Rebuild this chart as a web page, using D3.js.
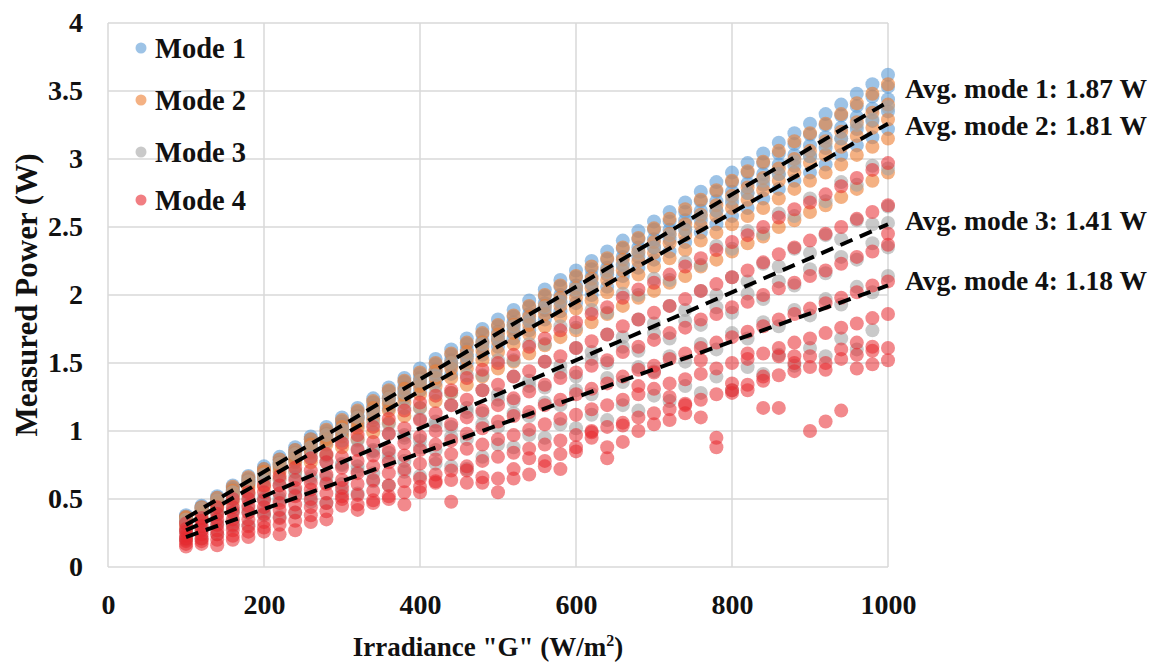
<!DOCTYPE html>
<html>
<head>
<meta charset="utf-8">
<script src="https://cdn.jsdelivr.net/npm/d3@7"></script>
<style>
  body { margin: 0; background: #fff; }
  text { font-family: "Liberation Serif", "Times New Roman", serif; font-weight: bold; fill: #111; }
</style>
</head>
<body>
<div id="chart"></div>
<script>
const irradiance = [100, 120, 140, 160, 180, 200, 220, 240, 260, 280, 300, 320, 340, 360, 380, 400,
  420, 440, 460, 480, 500, 520, 540, 560, 580, 600, 620, 640, 660, 680, 700, 720, 740, 760, 780,
  800, 820, 840, 860, 880, 900, 920, 940, 960, 980, 1000];

// measured power (W), one row per irradiance step
const mode1 = [
  [0.38, 0.37, 0.36, 0.35, 0.34], [0.45, 0.44, 0.43, 0.41, 0.40], [0.52, 0.51, 0.49, 0.48, 0.46],
  [0.60, 0.58, 0.57, 0.55, 0.53], [0.67, 0.65, 0.64, 0.62, 0.60], [0.74, 0.72, 0.70, 0.68, 0.66],
  [0.81, 0.79, 0.77, 0.75, 0.72], [0.88, 0.86, 0.84, 0.81, 0.78], [0.96, 0.94, 0.91, 0.89, 0.85],
  [1.03, 1.00, 0.98, 0.95, 0.92], [1.10, 1.07, 1.05, 1.02, 0.98], [1.17, 1.14, 1.11, 1.08, 1.04],
  [1.24, 1.21, 1.18, 1.15, 1.10], [1.32, 1.29, 1.25, 1.22, 1.17], [1.39, 1.36, 1.32, 1.29, 1.24],
  [1.46, 1.42, 1.39, 1.35, 1.30], [1.53, 1.49, 1.45, 1.42, 1.36], [1.60, 1.56, 1.52, 1.48, 1.42],
  [1.68, 1.64, 1.60, 1.55, 1.50], [1.75, 1.71, 1.66, 1.62, 1.56], [1.82, 1.77, 1.73, 1.68, 1.62],
  [1.89, 1.84, 1.80, 1.75, 1.68], [1.96, 1.91, 1.86, 1.81, 1.74], [2.04, 1.99, 1.94, 1.89, 1.82],
  [2.11, 2.06, 2.00, 1.95, 1.88], [2.18, 2.13, 2.07, 2.02, 1.94], [2.25, 2.19, 2.14, 2.08, 2.00],
  [2.32, 2.26, 2.20, 2.15, 2.06], [2.40, 2.34, 2.28, 2.22, 2.14], [2.47, 2.41, 2.35, 2.28, 2.20],
  [2.54, 2.48, 2.41, 2.35, 2.26], [2.61, 2.54, 2.48, 2.41, 2.32], [2.68, 2.61, 2.55, 2.48, 2.39],
  [2.76, 2.69, 2.62, 2.55, 2.46], [2.83, 2.76, 2.69, 2.62, 2.52], [2.90, 2.83, 2.76, 2.68, 2.58],
  [2.97, 2.90, 2.82, 2.75, 2.64], [3.04, 2.97, 2.89, 2.81, 2.71], [3.12, 3.04, 2.96, 2.89, 2.78],
  [3.19, 3.11, 3.03, 2.95, 2.84], [3.26, 3.18, 3.10, 3.02, 2.90], [3.33, 3.25, 3.16, 3.08, 2.96],
  [3.40, 3.32, 3.23, 3.15, 3.03], [3.48, 3.39, 3.31, 3.22, 3.10], [3.55, 3.46, 3.37, 3.28, 3.16],
  [3.62, 3.53, 3.44, 3.35, 3.22]
];

const mode2 = [
  [0.37, 0.36, 0.35, 0.33, 0.30], [0.44, 0.43, 0.41, 0.39, 0.36], [0.51, 0.49, 0.47, 0.45, 0.41],
  [0.59, 0.56, 0.54, 0.52, 0.48], [0.66, 0.63, 0.61, 0.58, 0.54], [0.72, 0.70, 0.67, 0.64, 0.59],
  [0.79, 0.76, 0.74, 0.70, 0.65], [0.86, 0.83, 0.80, 0.77, 0.70], [0.94, 0.90, 0.87, 0.84, 0.77],
  [1.01, 0.97, 0.94, 0.90, 0.82], [1.08, 1.03, 1.00, 0.96, 0.88], [1.15, 1.10, 1.06, 1.02, 0.94],
  [1.22, 1.17, 1.13, 1.08, 0.99], [1.30, 1.24, 1.20, 1.15, 1.06], [1.37, 1.31, 1.26, 1.21, 1.11],
  [1.43, 1.37, 1.33, 1.27, 1.17], [1.50, 1.44, 1.39, 1.33, 1.22], [1.57, 1.50, 1.46, 1.39, 1.28],
  [1.65, 1.58, 1.53, 1.46, 1.34], [1.72, 1.65, 1.59, 1.52, 1.40], [1.78, 1.71, 1.66, 1.58, 1.46],
  [1.85, 1.78, 1.72, 1.64, 1.51], [1.92, 1.84, 1.78, 1.71, 1.57], [2.00, 1.92, 1.86, 1.77, 1.63],
  [2.07, 1.98, 1.92, 1.84, 1.69], [2.14, 2.05, 1.98, 1.90, 1.74], [2.21, 2.12, 2.05, 1.96, 1.80],
  [2.27, 2.18, 2.11, 2.02, 1.86], [2.35, 2.26, 2.18, 2.09, 1.92], [2.42, 2.32, 2.25, 2.15, 1.98],
  [2.49, 2.39, 2.31, 2.21, 2.03], [2.56, 2.45, 2.38, 2.27, 2.09], [2.63, 2.52, 2.44, 2.33, 2.14],
  [2.70, 2.59, 2.51, 2.40, 2.21], [2.77, 2.66, 2.58, 2.46, 2.26], [2.84, 2.73, 2.64, 2.52, 2.32],
  [2.91, 2.79, 2.70, 2.58, 2.38], [2.98, 2.86, 2.77, 2.64, 2.43], [3.06, 2.93, 2.84, 2.71, 2.50],
  [3.13, 3.00, 2.90, 2.78, 2.55], [3.19, 3.06, 2.97, 2.84, 2.61], [3.26, 3.13, 3.03, 2.90, 2.66],
  [3.33, 3.20, 3.09, 2.96, 2.72], [3.41, 3.27, 3.17, 3.03, 2.78], [3.48, 3.34, 3.23, 3.09, 2.84],
  [3.55, 3.40, 3.29, 3.15, 2.90]
];

const mode3 = [
  [0.35, 0.32, 0.27, 0.26, 0.21, 0.20], [0.43, 0.36, 0.34, 0.29, 0.27, 0.21],
  [0.49, 0.41, 0.39, 0.33, 0.31, 0.24], [0.55, 0.50, 0.42, 0.41, 0.33, 0.30],
  [0.63, 0.53, 0.50, 0.43, 0.40, 0.31], [0.68, 0.63, 0.51, 0.50, 0.41, 0.38],
  [0.76, 0.64, 0.60, 0.51, 0.49, 0.37], [0.83, 0.70, 0.66, 0.56, 0.53, 0.40],
  [0.88, 0.81, 0.67, 0.65, 0.53, 0.48], [0.97, 0.82, 0.77, 0.66, 0.62, 0.47],
  [1.01, 0.93, 0.76, 0.75, 0.61, 0.55], [1.10, 0.93, 0.87, 0.74, 0.71, 0.54],
  [1.14, 1.05, 0.86, 0.85, 0.69, 0.63], [1.24, 1.05, 0.98, 0.84, 0.80, 0.60],
  [1.28, 1.17, 0.97, 0.95, 0.78, 0.70], [1.37, 1.17, 1.09, 0.93, 0.88, 0.67],
  [1.41, 1.28, 1.07, 1.04, 0.86, 0.76], [1.50, 1.28, 1.19, 1.03, 0.96, 0.74],
  [1.55, 1.41, 1.17, 1.14, 0.94, 0.72], [1.64, 1.41, 1.30, 1.13, 1.05, 0.81],
  [1.68, 1.52, 1.27, 1.23, 1.03, 0.90], [1.77, 1.52, 1.40, 1.22, 1.13, 0.88],
  [1.81, 1.64, 1.37, 1.33, 1.11, 0.97], [1.91, 1.64, 1.51, 1.32, 1.21, 0.95],
  [1.95, 1.77, 1.48, 1.43, 1.19, 1.05], [2.04, 1.76, 1.61, 1.40, 1.30, 1.02],
  [2.08, 1.89, 1.58, 1.53, 1.27, 1.12], [2.17, 1.87, 1.71, 1.50, 1.39, 1.08],
  [2.22, 2.01, 1.69, 1.62, 1.36, 1.19], [2.31, 2.00, 1.82, 1.59, 1.47, 1.15],
  [2.35, 2.12, 1.79, 1.72, 1.44, 1.26], [2.44, 2.11, 1.92, 1.68, 1.55, 1.22],
  [2.48, 2.24, 1.89, 1.81, 1.51, 1.33], [2.58, 2.22, 2.03, 1.78, 1.64, 1.28],
  [2.62, 2.36, 2.00, 1.91, 1.60, 1.40], [2.71, 2.34, 2.13, 1.87, 1.72, 1.30],
  [2.75, 2.47, 2.10, 2.01, 1.68, 1.47], [2.84, 2.45, 2.23, 1.97, 1.80, 1.42],
  [2.89, 2.60, 2.21, 2.10, 1.77, 1.56], [2.98, 2.58, 2.34, 2.07, 1.89, 1.48],
  [3.02, 2.71, 2.31, 2.19, 1.85, 1.61], [3.11, 2.69, 2.44, 2.16, 1.97, 1.55],
  [3.15, 2.83, 2.41, 2.28, 1.93, 1.68], [3.25, 2.81, 2.55, 2.26, 2.06, 1.60],
  [3.29, 2.95, 2.52, 2.38, 2.02, 1.74], [3.38, 2.93, 2.65, 2.35, 2.14, 2.53]
];

const mode4 = [
  [0.32, 0.28, 0.26, 0.23, 0.21, 0.19, 0.17, 0.15], [0.36, 0.34, 0.30, 0.27, 0.24, 0.21, 0.19, 0.17],
  [0.44, 0.39, 0.35, 0.31, 0.27, 0.24, 0.20, 0.16], [0.50, 0.44, 0.40, 0.35, 0.31, 0.27, 0.23, 0.20],
  [0.55, 0.50, 0.45, 0.40, 0.35, 0.30, 0.26, 0.22], [0.60, 0.55, 0.49, 0.44, 0.39, 0.33, 0.29, 0.26],
  [0.67, 0.60, 0.54, 0.47, 0.42, 0.36, 0.31, 0.24], [0.73, 0.64, 0.58, 0.52, 0.46, 0.40, 0.34, 0.27],
  [0.80, 0.71, 0.62, 0.57, 0.50, 0.44, 0.38, 0.33], [0.83, 0.77, 0.68, 0.61, 0.54, 0.47, 0.41, 0.35],
  [0.91, 0.81, 0.73, 0.64, 0.58, 0.50, 0.52, 0.45], [0.97, 0.86, 0.78, 0.69, 0.61, 0.53, 0.46, 0.42],
  [1.03, 0.92, 0.82, 0.74, 0.64, 0.56, 0.49, 0.47], [1.09, 0.98, 0.86, 0.77, 0.69, 0.60, 0.52, 0.50],
  [1.15, 1.02, 0.91, 0.82, 0.72, 0.63, 0.55, 0.46], [1.21, 1.08, 0.96, 0.86, 0.76, 0.65, 0.59, 0.55],
  [1.26, 1.13, 1.00, 0.90, 0.79, 0.68, 0.62, 0.63], [1.30, 1.19, 1.05, 0.93, 0.83, 0.71, 0.64, 0.48],
  [1.39, 1.23, 1.10, 0.98, 0.87, 0.74, 0.71, 0.62], [1.45, 1.30, 1.15, 1.02, 0.90, 0.78, 0.66, 0.62],
  [1.50, 1.34, 1.19, 1.07, 0.94, 0.81, 0.65, 0.55], [1.56, 1.40, 1.24, 1.11, 0.97, 0.84, 0.72, 0.65],
  [1.62, 1.44, 1.29, 1.14, 1.01, 0.87, 0.80, 0.68], [1.68, 1.51, 1.34, 1.19, 1.05, 0.90, 0.78, 0.74],
  [1.74, 1.55, 1.39, 1.23, 1.09, 0.93, 0.83, 0.72], [1.80, 1.61, 1.43, 1.27, 1.12, 0.97, 0.88, 0.85],
  [1.86, 1.66, 1.48, 1.31, 1.16, 1.00, 0.95, 0.99], [1.91, 1.71, 1.52, 1.35, 1.19, 1.03, 0.88, 0.80],
  [1.98, 1.77, 1.58, 1.40, 1.23, 1.06, 1.04, 0.92], [2.04, 1.82, 1.62, 1.45, 1.27, 1.10, 1.33, 1.00],
  [2.09, 1.87, 1.67, 1.48, 1.31, 1.13, 1.43, 1.05], [2.15, 1.92, 1.72, 1.53, 1.35, 1.16, 1.25, 1.08],
  [2.21, 1.97, 1.76, 1.57, 1.38, 1.19, 1.20, 1.13], [2.27, 2.03, 1.82, 1.61, 1.42, 1.23, 1.52, 1.10],
  [2.33, 2.08, 1.86, 1.65, 1.46, 1.27, 0.95, 0.88], [2.39, 2.13, 1.91, 1.69, 1.50, 1.30, 1.28, 1.35],
  [2.44, 2.18, 1.95, 1.73, 1.53, 1.34, 1.57, 1.30], [2.50, 2.24, 2.00, 1.77, 1.57, 1.37, 1.17, 1.40],
  [2.57, 2.30, 2.05, 1.82, 1.61, 1.41, 1.17, 1.55], [2.63, 2.35, 2.09, 1.86, 1.65, 1.44, 1.55, 1.50],
  [2.68, 2.40, 2.14, 1.90, 1.68, 1.47, 1.00, 1.55], [2.74, 2.45, 2.18, 1.94, 1.72, 1.50, 1.07, 1.45],
  [2.80, 2.50, 2.23, 1.98, 1.76, 1.53, 1.15, 1.60], [2.86, 2.56, 2.28, 2.02, 1.79, 1.56, 1.46, 1.65],
  [2.92, 2.61, 2.32, 2.07, 1.83, 1.59, 1.49, 1.62], [2.97, 2.66, 2.37, 2.10, 1.86, 1.61, 1.52, 2.45]
];

const modeNames = ["Mode 1", "Mode 2", "Mode 3", "Mode 4"];
const modeColors = ["#5B9BD5", "#ED7D31", "#A5A5A5", "#E8282E"];
// linear trend lines, value at G = 100 and G = 1000
const trendStart = [0.36, 0.31, 0.27, 0.22];
const trendEnd = [3.42, 3.26, 2.52, 2.07];
const avgLabels = ["Avg. mode 1: 1.87 W", "Avg. mode 2: 1.81 W", "Avg. mode 3: 1.41 W", "Avg. mode 4: 1.18 W"];
const xTicks = [0, 200, 400, 600, 800, 1000];
const yTicks = [0, 0.5, 1, 1.5, 2, 2.5, 3, 3.5, 4];

const width = 1171;
const height = 666;
const margin = { top: 23, right: 283, bottom: 99, left: 108 };

const svg = d3.select("#chart")
  .append("svg")
  .attr("width", width)
  .attr("height", height);

const x = d3.scaleLinear()
  .domain([0, 1000])
  .range([margin.left, width - margin.right]);

const y = d3.scaleLinear()
  .domain([0, 4])
  .range([height - margin.bottom, margin.top]);

// gridlines
svg.append("g")
  .selectAll("line")
  .data(yTicks)
  .join("line")
  .attr("x1", x(0)).attr("x2", x(1000))
  .attr("y1", d => y(d)).attr("y2", d => y(d))
  .attr("stroke", "#d9d9d9").attr("stroke-width", 1.5);

svg.append("g")
  .selectAll("line")
  .data(xTicks)
  .join("line")
  .attr("x1", d => x(d)).attr("x2", d => x(d))
  .attr("y1", y(0)).attr("y2", y(4))
  .attr("stroke", "#d9d9d9").attr("stroke-width", 1.5);

// axes (labels only)
const xAxis = svg.append("g")
  .attr("transform", `translate(0,${y(0) + 24})`)
  .call(d3.axisBottom(x).tickValues(xTicks).tickSize(0).tickFormat(d3.format("d")));
xAxis.select(".domain").remove();
xAxis.selectAll("text").attr("font-size", 28).attr("font-family", null).attr("dy", "0.71em");

const yAxis = svg.append("g")
  .attr("transform", `translate(${x(0) - 22},0)`)
  .call(d3.axisLeft(y).tickValues(yTicks).tickSize(0).tickFormat(d => d));
yAxis.select(".domain").remove();
yAxis.selectAll("text").attr("font-size", 28).attr("font-family", null);

// scatter points
const modes = [mode1, mode2, mode3, mode4];
modes.forEach((rows, i) => {
  const pts = [];
  rows.forEach((vals, j) => vals.forEach(v => pts.push({ g: irradiance[j], p: v })));
  svg.append("g")
    .selectAll("circle")
    .data(pts)
    .join("circle")
    .attr("cx", d => x(d.g))
    .attr("cy", d => y(d.p))
    .attr("r", 7)
    .attr("fill", modeColors[i])
    .attr("fill-opacity", i === 3 ? 0.55 : 0.6);
});

// trend lines
const line = d3.line().x(d => x(d[0])).y(d => y(d[1]));
trendStart.forEach((s, i) => {
  svg.append("path")
    .datum([[100, s], [1000, trendEnd[i]]])
    .attr("fill", "none")
    .attr("stroke", "#000")
    .attr("stroke-width", 4)
    .attr("stroke-dasharray", "13,8")
    .attr("d", line);
});

// legend
const legendY = [48, 100, 152, 200];
modeNames.forEach((name, i) => {
  svg.append("circle")
    .attr("cx", 141).attr("cy", legendY[i]).attr("r", 5.5)
    .attr("fill", modeColors[i]).attr("fill-opacity", 0.6);
  svg.append("text")
    .attr("x", 155).attr("y", legendY[i] + 10)
    .attr("font-size", 28.5)
    .text(name);
});

// average labels at the end of each trend line
const labelAt = [3.52, 3.25, 2.55, 2.11];
avgLabels.forEach((t, i) => {
  svg.append("text")
    .attr("x", x(1000) + 17)
    .attr("y", y(labelAt[i]) + 10)
    .attr("font-size", 27.5)
    .text(t);
});

// axis titles
const xt = svg.append("text")
  .attr("x", (x(0) + x(1000)) / 2 - 10)
  .attr("y", 656)
  .attr("text-anchor", "middle")
  .attr("font-size", 27);
xt.append("tspan").text("Irradiance \"G\" (W/m");
xt.append("tspan").attr("font-size", 16).attr("dy", -10).text("2");
xt.append("tspan").attr("dy", 10).text(")");

svg.append("text")
  .attr("transform", `translate(37,${(y(0) + y(4)) / 2}) rotate(-90)`)
  .attr("text-anchor", "middle")
  .attr("font-size", 31)
  .text("Measured Power (W)");
</script>
</body>
</html>
